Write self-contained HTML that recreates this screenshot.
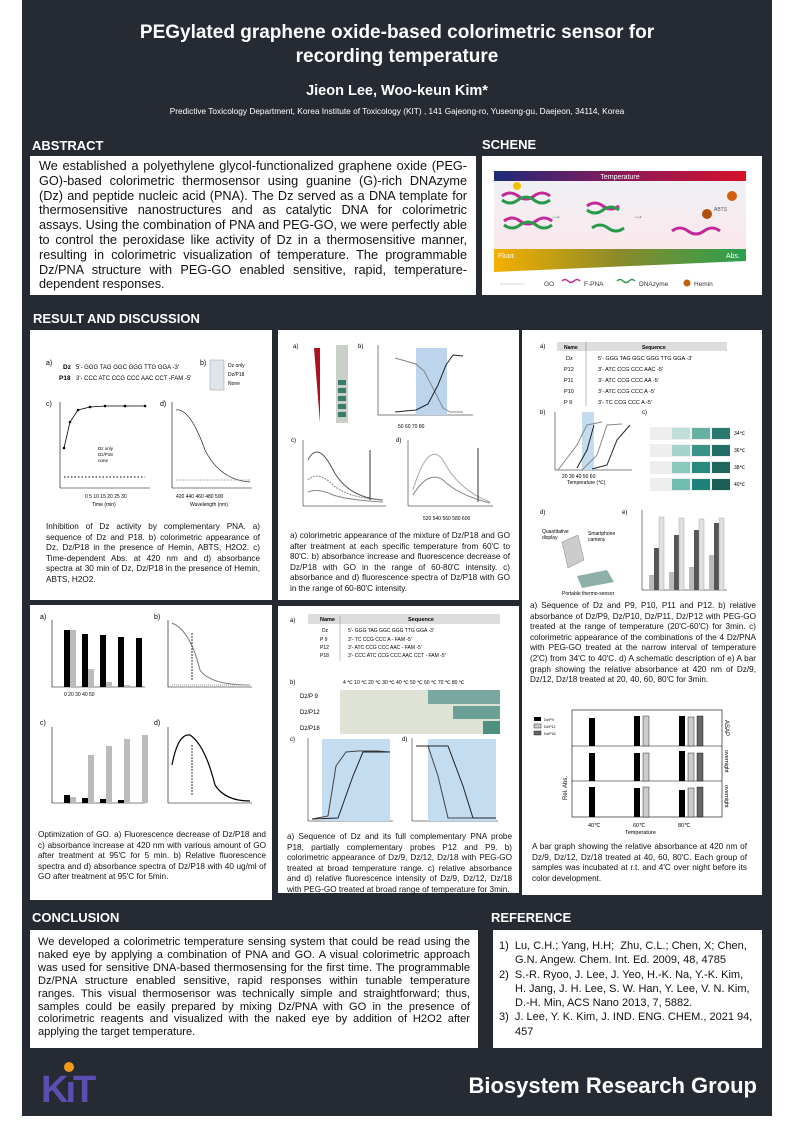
<!DOCTYPE html>
<html><head><meta charset="utf-8">
<style>
*{margin:0;padding:0;box-sizing:border-box}
body{width:793px;height:1122px;background:#fff;position:relative;font-family:"Liberation Sans",sans-serif;overflow:hidden}
#bg{position:absolute;left:22px;top:0;width:750px;height:1116px;background:#262b33}
.a{position:absolute}
.h{color:#fff;font-weight:bold;font-size:13px}
.box{position:absolute;background:#fff}
.j{text-align:justify;color:#111}
.cap{position:absolute;font-size:8.2px;line-height:10.6px;text-align:justify;color:#111}
svg text{font-family:"Liberation Sans",sans-serif}
</style></head><body>
<div id="bg"></div>
<div class="a" style="left:22px;width:750px;top:21px;text-align:center;color:#fff;font-weight:bold;font-size:19px;line-height:24px">PEGylated graphene oxide-based colorimetric sensor for<br>recording temperature</div>
<div class="a" style="left:22px;width:750px;top:83px;text-align:center;color:#fff;font-weight:bold;font-size:14.5px">Jieon Lee, Woo-keun Kim*</div>
<div class="a" style="left:22px;width:750px;top:106px;text-align:center;color:#fff;font-size:8.3px">Predictive Toxicology Department, Korea Institute of Toxicology (KIT) , 141 Gajeong-ro, Yuseong-gu, Daejeon, 34114, Korea</div>

<div class="a h" style="left:32px;top:138px">ABSTRACT</div>
<div class="a h" style="left:482px;top:137px">SCHENE</div>
<div class="box j" style="left:30px;top:156px;width:446px;height:139px;padding:3px 9px;font-size:12.7px;line-height:14.8px">We established a polyethylene glycol-functionalized graphene oxide (PEG-GO)-based colorimetric thermosensor using guanine (G)-rich DNAzyme (Dz) and peptide nucleic acid (PNA). The Dz served as a DNA template for thermosensitive nanostructures and as catalytic DNA for colorimetric assays. Using the combination of PNA and PEG-GO, we were perfectly able to control the peroxidase like activity of Dz in a thermosensitive manner, resulting in colorimetric visualization of temperature. The programmable Dz/PNA structure with PEG-GO enabled sensitive, rapid, temperature-dependent responses.</div>
<div class="box" style="left:482px;top:156px;width:280px;height:139px">
<svg width="280" height="139">
<defs><linearGradient id="tg"><stop offset="0" stop-color="#1d2a7a"/><stop offset=".5" stop-color="#8a1a5a"/><stop offset="1" stop-color="#d8102a"/></linearGradient>
<linearGradient id="fg"><stop offset="0" stop-color="#f5b000"/><stop offset=".5" stop-color="#8a8a2a"/><stop offset="1" stop-color="#2aa050"/></linearGradient>
<linearGradient id="pk" x1="0" y1="0" x2="0" y2="1"><stop offset="0" stop-color="#eef2f6"/><stop offset="1" stop-color="#fbe8ec"/></linearGradient></defs>
<rect x="12" y="15" width="252" height="80" fill="url(#pk)"/>
<rect x="12" y="15" width="252" height="10" fill="url(#tg)"/>
<text x="138" y="23" font-size="7" fill="#fff" text-anchor="middle">Temperature</text>
<g stroke-width="3" fill="none">
<path d="M20 40 q8 -6 16 0 t16 0 t16 0" stroke="#c02a9a"/><path d="M20 44 q8 6 16 0 t16 0 t16 0" stroke="#2a9a4a"/>
<path d="M22 65 q8 -6 16 0 t16 0 t16 0" stroke="#c02a9a"/><path d="M22 69 q8 6 16 0 t16 0 t16 0" stroke="#2a9a4a"/>
<path d="M105 50 q8 -6 16 0 t16 0" stroke="#c02a9a"/><path d="M105 54 q8 6 16 0 t16 0" stroke="#2a9a4a"/>
<path d="M110 72 q8 -6 16 0 t16 0" stroke="#2a9a4a"/>
<path d="M190 75 q8 -6 16 0 t16 0 t16 0" stroke="#c02a9a"/>
</g>
<circle cx="35" cy="30" r="4" fill="#f5c000"/><circle cx="250" cy="40" r="5" fill="#d06010"/><circle cx="225" cy="58" r="5" fill="#b05010"/>
<text x="68" y="63" font-size="12" fill="#888">→</text><text x="150" y="63" font-size="12" fill="#888">→</text>
<text x="232" y="55" font-size="5" fill="#555">ABTS</text>
<polygon points="12,93 264,93 264,105 12,116" fill="url(#fg)"/>
<text x="16" y="102" font-size="7" fill="#fff">Fluor.</text><text x="244" y="102" font-size="7" fill="#fff">Abs.</text>
<text x="62" y="130" font-size="6.5" fill="#333">GO</text>
<path d="M80 125 q3 -3 6 0 t6 0 t6 0" stroke="#c02a9a" stroke-width="1.5" fill="none"/><text x="102" y="130" font-size="6.5" fill="#333">F-PNA</text>
<path d="M135 125 q3 -3 6 0 t6 0 t6 0" stroke="#2a9a4a" stroke-width="1.5" fill="none"/><text x="157" y="130" font-size="6.5" fill="#333">DNAzyme</text>
<circle cx="205" cy="127" r="3.5" fill="#c06010"/><text x="212" y="130" font-size="6.5" fill="#333">Hemin</text>
<text x="18" y="130" font-size="6" fill="#aaa">~~~~~~~</text>
</svg></div>

<div class="a h" style="left:33px;top:311px">RESULT AND DISCUSSION</div>

<!-- left top -->
<div class="box" style="left:30px;top:330px;width:242px;height:270px">
<svg width="242" height="270" font-size="6">
<text x="16" y="35" font-size="7">a)</text>
<text x="33" y="39" font-size="6.5" font-weight="bold">Dz</text><text x="46" y="39" font-size="6" font-family="Liberation Mono">5'- GGG TAG GGC GGG TTG GGA -3'</text>
<text x="29" y="50" font-size="6.5" font-weight="bold">P18</text><text x="46" y="50" font-size="6" font-family="Liberation Mono">3'- CCC ATC CCG CCC AAC CCT -FAM -5'</text>
<text x="170" y="35" font-size="7">b)</text>
<rect x="180" y="30" width="14" height="30" fill="#dde4ea" stroke="#999" stroke-width=".5"/>
<text x="198" y="37" font-size="5">Dz only</text><text x="198" y="46" font-size="5">Dz/P18</text><text x="198" y="55" font-size="5">None</text>
<text x="16" y="76" font-size="7">c)</text><text x="130" y="76" font-size="7">d)</text>
<path d="M30 72 V158 H120" stroke="#000" fill="none" stroke-width=".6"/>
<path d="M34 118 L40 92 L48 80 L60 77 L75 76 L95 76 L115 76" stroke="#000" fill="none" stroke-width=".8"/>
<g fill="#000"><circle cx="34" cy="118" r="1.3"/><circle cx="40" cy="92" r="1.3"/><circle cx="48" cy="80" r="1.3"/><circle cx="60" cy="77" r="1.3"/><circle cx="75" cy="76" r="1.3"/><circle cx="95" cy="76" r="1.3"/><circle cx="115" cy="76" r="1.3"/></g>
<path d="M34 147 H115" stroke="#000" stroke-dasharray="1.5 2" stroke-width="1"/>
<text x="55" y="168" font-size="5">0 5 10 15 20 25 30</text><text x="62" y="176" font-size="5">Time (min)</text>
<text x="68" y="120" font-size="4.5">Dz only</text><text x="68" y="126" font-size="4.5">Dz/P18</text><text x="68" y="132" font-size="4.5">none</text>
<path d="M142 72 V158 H222" stroke="#000" fill="none" stroke-width=".6"/>
<path d="M146 80 Q160 78 175 120 Q190 150 220 152" stroke="#333" fill="none" stroke-width=".8"/>
<path d="M146 150 H220" stroke="#666" stroke-dasharray="2 1" stroke-width=".6"/>
<text x="146" y="168" font-size="5">420 440 460 480 500</text><text x="160" y="176" font-size="5">Wavelength (nm)</text>
</svg>
<div class="cap" style="left:16px;top:192px;width:214px">Inhibition of Dz activity by complementary PNA. a) sequence of Dz and P18. b) colorimetric appearance of Dz, Dz/P18 in the presence of Hemin, ABTS, H2O2. c) Time-dependent Abs. at 420 nm and d) absorbance spectra at 30 min of Dz, Dz/P18 in the presence of Hemin, ABTS, H2O2.</div>
</div>

<!-- left bottom -->
<div class="box" style="left:30px;top:605px;width:242px;height:295px">
<svg width="242" height="230" font-size="5">
<text x="10" y="14" font-size="7">a)</text><text x="124" y="14" font-size="7">b)</text>
<path d="M22 15 V82 H115" stroke="#000" fill="none" stroke-width=".6"/>
<g fill="#000"><rect x="34" y="25" width="6" height="57"/><rect x="52" y="29" width="6" height="53"/><rect x="70" y="30" width="6" height="52"/><rect x="88" y="32" width="6" height="50"/><rect x="106" y="33" width="6" height="49"/></g>
<g fill="#bbb"><rect x="40" y="25" width="6" height="57"/><rect x="58" y="64" width="6" height="18"/><rect x="76" y="77" width="6" height="5"/><rect x="94" y="80" width="6" height="2"/></g>
<text x="34" y="91">0 20 30 40 50</text>
<path d="M138 15 V82 H222" stroke="#000" fill="none" stroke-width=".6"/>
<path d="M142 18 Q160 25 170 65 Q180 80 220 80" stroke="#777" fill="none"/>
<path d="M142 80 H220" stroke="#999" stroke-dasharray="1 1"/>
<path d="M162 28 V75" stroke="#333" stroke-dasharray="2 1"/>
<text x="10" y="120" font-size="7">c)</text><text x="124" y="120" font-size="7">d)</text>
<path d="M22 122 V198 H115" stroke="#000" fill="none" stroke-width=".6"/>
<g fill="#000"><rect x="34" y="190" width="6" height="8"/><rect x="52" y="193" width="6" height="5"/><rect x="70" y="194" width="6" height="4"/><rect x="88" y="195" width="6" height="3"/></g>
<g fill="#bbb"><rect x="40" y="192" width="6" height="6"/><rect x="58" y="150" width="6" height="48"/><rect x="76" y="141" width="6" height="57"/><rect x="94" y="134" width="6" height="64"/><rect x="112" y="130" width="6" height="68"/></g>
<path d="M138 122 V198 H222" stroke="#000" fill="none" stroke-width=".6"/>
<path d="M142 160 Q148 128 160 130 Q175 140 185 180 Q195 196 220 196" stroke="#000" fill="none" stroke-width="1.2"/>
<path d="M162 190 V140" stroke="#333" stroke-dasharray="2 1"/>
</svg>
<div class="cap" style="left:8px;top:225px;width:228px">Optimization of GO. a) Fluorescence decrease of Dz/P18 and c) absorbance increase at 420 nm with various amount of GO after treatment at 95'C for 5 min. b) Relative fluorescence spectra and d) absorbance spectra of Dz/P18 with 40 ug/ml of GO after treatment at 95'C for 5min.</div>
</div>

<!-- middle top -->
<div class="box" style="left:278px;top:330px;width:241px;height:270px">
<svg width="241" height="200" font-size="5">
<text x="15" y="18" font-size="6">a)</text>
<polygon points="36,18 42,18 42,93" fill="#b01020"/>
<rect x="58" y="15" width="12" height="78" fill="#c8d0c8"/>
<g fill="#3a7a6a"><rect x="60" y="50" width="8" height="5"/><rect x="60" y="58" width="8" height="5"/><rect x="60" y="66" width="8" height="5"/><rect x="60" y="74" width="8" height="5"/><rect x="60" y="82" width="8" height="5"/></g>
<text x="80" y="18" font-size="6">b)</text>
<path d="M100 15 V85 H195" stroke="#000" fill="none" stroke-width=".5"/>
<rect x="138" y="18" width="31" height="67" fill="#bcd4ec"/>
<path d="M117 28 L138 34 L146 41 L156 60 L165 78 L172 82 L185 82" stroke="#888" fill="none"/>
<path d="M117 82 L138 80 L150 74 L160 55 L168 35 L175 25 L185 26" stroke="#222" fill="none"/>
<text x="120" y="98">50 60 70 80</text>
<text x="13" y="112" font-size="6">c)</text><text x="118" y="112" font-size="6">d)</text>
<path d="M25 110 V176 H108" stroke="#000" fill="none" stroke-width=".5"/>
<path d="M30 130 Q40 110 55 140 Q70 168 105 170" stroke="#555" fill="none"/>
<path d="M30 150 Q40 140 55 155 Q70 168 105 170" stroke="#888" fill="none" stroke-dasharray="2 1"/>
<path d="M30 162 Q40 158 55 165 Q70 170 105 172" stroke="#888" fill="none"/>
<path d="M92 170 V120" stroke="#333"/>
<path d="M130 110 V176 H215" stroke="#000" fill="none" stroke-width=".5"/>
<path d="M135 160 Q150 110 165 130 Q180 160 212 172" stroke="#aaa" fill="none"/>
<path d="M135 165 Q150 140 165 150 Q180 165 212 173" stroke="#888" fill="none"/>
<path d="M200 118 V172" stroke="#333"/>
<text x="145" y="190">520 540 560 580 600</text>
</svg>
<div class="cap" style="left:12px;top:201px;width:220px">a) colorimetric appearance of the mixture of Dz/P18 and GO after treatment at each specific temperature from 60'C to 80'C. b) absorbance increase and fluorescence decrease of Dz/P18 with GO in the range of 60-80'C intensity. c) absorbance and d) fluorescence spectra of Dz/P18 with GO in the range of 60-80'C intensity.</div>
</div>

<!-- middle bottom -->
<div class="box" style="left:278px;top:606px;width:241px;height:287px">
<svg width="241" height="225" font-size="5.5">
<text x="12" y="16" font-size="6">a)</text>
<rect x="30" y="8" width="192" height="10" fill="#ddd"/>
<text x="42" y="15" font-weight="bold">Name</text><text x="130" y="15" font-weight="bold">Sequence</text>
<g font-family="Liberation Mono" font-size="5"><text x="44" y="26">Dz</text><text x="70" y="26">5'- GGG TAG GGC GGG TTG GGA      -3'</text>
<text x="42" y="35">P 9</text><text x="70" y="35">3'-       TC CCG CCC A      - FAM -5'</text>
<text x="42" y="43">P12</text><text x="70" y="43">3'-      ATC CCG CCC AAC    - FAM -5'</text>
<text x="42" y="51">P18</text><text x="70" y="51">3'- CCC ATC CCG CCC AAC CCT - FAM -5'</text></g>
<path d="M62 10 V55" stroke="#888" stroke-width=".5"/>
<text x="12" y="78" font-size="6">b)</text>
<text x="65" y="78" font-size="5">4 ℃  10 ℃  20 ℃  30 ℃  40 ℃  50 ℃  60 ℃  70 ℃  80 ℃</text>
<text x="22" y="92" font-size="6">Dz/P 9</text><text x="22" y="108" font-size="6">Dz/P12</text><text x="22" y="124" font-size="6">Dz/P18</text>
<rect x="62" y="84" width="160" height="44" fill="#dfe3d6"/>
<rect x="150" y="84" width="72" height="14" fill="#7aa8a0"/><rect x="175" y="100" width="47" height="13" fill="#6aa095"/><rect x="205" y="115" width="17" height="13" fill="#4d9080"/>
<text x="12" y="135" font-size="6">c)</text><text x="124" y="135" font-size="6">d)</text>
<path d="M30 132 V215 H115" stroke="#000" fill="none" stroke-width=".5"/>
<rect x="44" y="133" width="68" height="82" fill="#c4dcf0"/>
<path d="M34 213 L50 210 L58 160 L68 146 L80 145 L100 145 L112 146" stroke="#444" fill="none"/>
<path d="M34 213 L60 212 L75 170 L85 146 L112 146" stroke="#222" fill="none"/>
<path d="M134 132 V215 H220" stroke="#000" fill="none" stroke-width=".5"/>
<rect x="150" y="133" width="68" height="82" fill="#c4dcf0"/>
<path d="M138 140 L150 140 L160 170 L170 212 L218 212" stroke="#444" fill="none"/>
<path d="M138 140 L170 140 L185 180 L195 212 L218 212" stroke="#222" fill="none"/>
</svg>
<div class="cap" style="left:9px;top:226px;width:225px">a) Sequence of Dz and its full complementary PNA probe P18, partially complementary probes P12 and P9. b) colorimetric appearance of Dz/9, Dz/12, Dz/18 with PEG-GO treated at broad temperature range. c) relative absorbance and d) relative fluorescence intensity of Dz/9, Dz/12, Dz/18 with PEG-GO treated at broad range of temperature for 3min.</div>
</div>

<!-- right -->
<div class="box" style="left:522px;top:330px;width:240px;height:565px">
<svg width="240" height="560" font-size="5">
<text x="18" y="18" font-size="6">a)</text>
<rect x="35" y="12" width="170" height="9" fill="#ddd"/>
<text x="42" y="19" font-weight="bold">Name</text><text x="120" y="19" font-weight="bold">Sequence</text>
<g font-family="Liberation Serif" font-size="5.5"><text x="44" y="30">Dz</text><text x="76" y="30">5'- GGG TAG GGC GGG TTG GGA -3'</text>
<text x="42" y="41">P12</text><text x="76" y="41">3'-     ATC CCG CCC AAC      -5'</text>
<text x="42" y="52">P11</text><text x="76" y="52">3'-     ATC CCG CCC AA       -5'</text>
<text x="42" y="63">P10</text><text x="76" y="63">3'-     ATC CCG CCC A        -5'</text>
<text x="42" y="74">P 9</text><text x="76" y="74">3'-      TC CCG CCC A        -5'</text></g>
<path d="M64 12 V76" stroke="#777" stroke-width=".5"/>
<text x="18" y="84" font-size="6">b)</text>
<path d="M33 82 V140 H110" stroke="#000" fill="none" stroke-width=".5"/>
<rect x="60" y="82" width="12" height="58" fill="#c4dcf0"/>
<path d="M36 140 L55 115 L65 95 L80 92" stroke="#888" fill="none"/>
<path d="M55 138 L65 120 L72 95" stroke="#222" fill="none"/>
<path d="M60 140 L75 125 L85 95 L100 94" stroke="#888" fill="none"/>
<path d="M70 139 L85 135 L95 110 L108 95" stroke="#222" fill="none"/>
<text x="40" y="148">20 30 40 50 60</text><text x="45" y="154">Temperature (℃)</text>
<text x="120" y="84" font-size="6">c)</text>
<g><rect x="128" y="97" width="80" height="13" fill="#eee"/><rect x="128" y="114" width="80" height="13" fill="#eee"/><rect x="128" y="131" width="80" height="13" fill="#eee"/><rect x="128" y="148" width="80" height="13" fill="#eee"/>
<rect x="150" y="98" width="18" height="11" fill="#bfe0d8"/><rect x="170" y="98" width="18" height="11" fill="#69b0a4"/><rect x="190" y="98" width="18" height="11" fill="#2a7a70"/>
<rect x="150" y="115" width="18" height="11" fill="#a5d4ca"/><rect x="170" y="115" width="18" height="11" fill="#3a9488"/><rect x="190" y="115" width="18" height="11" fill="#236e64"/>
<rect x="150" y="132" width="18" height="11" fill="#8ac8bc"/><rect x="170" y="132" width="18" height="11" fill="#2a8a7e"/><rect x="190" y="132" width="18" height="11" fill="#1f665c"/>
<rect x="150" y="149" width="18" height="11" fill="#70bcae"/><rect x="170" y="149" width="18" height="11" fill="#1f827a"/><rect x="190" y="149" width="18" height="11" fill="#1a5e56"/></g>
<text x="212" y="105">34℃</text><text x="212" y="122">36℃</text><text x="212" y="139">38℃</text><text x="212" y="156">40℃</text>
<text x="18" y="184" font-size="6">d)</text><text x="100" y="184" font-size="6">e)</text>
<text x="20" y="203">Quantitative</text><text x="20" y="209">display</text><text x="66" y="205">Smartphone</text><text x="66" y="211">camera</text>
<polygon points="40,212 56,205 62,230 46,238" fill="#ccc" stroke="#888" stroke-width=".5"/>
<polygon points="55,246 85,240 92,252 60,258" fill="#8fb0a8"/>
<text x="40" y="265">Portable thermo-sensor</text>
<path d="M120 180 V260 H205" stroke="#000" fill="none" stroke-width=".5"/>
<g fill="#bbb"><rect x="127" y="245" width="5" height="15"/><rect x="147" y="242" width="5" height="18"/><rect x="167" y="237" width="5" height="23"/><rect x="187" y="225" width="5" height="35"/></g>
<g fill="#555"><rect x="132" y="218" width="5" height="42"/><rect x="152" y="205" width="5" height="55"/><rect x="172" y="200" width="5" height="60"/><rect x="192" y="193" width="5" height="67"/></g>
<g fill="#e0e0e0" stroke="#999" stroke-width=".4"><rect x="137" y="187" width="5" height="73"/><rect x="157" y="188" width="5" height="72"/><rect x="177" y="189" width="5" height="71"/><rect x="197" y="188" width="5" height="72"/></g>
<rect x="12" y="387" width="7" height="4" fill="#000"/><text x="22" y="391" font-size="3.5">Dz/P9</text>
<rect x="12" y="394" width="7" height="4" fill="#ccc" stroke="#000" stroke-width=".4"/><text x="22" y="398" font-size="3.5">Dz/P12</text>
<rect x="12" y="401" width="7" height="4" fill="#666" stroke="#000" stroke-width=".4"/><text x="22" y="405" font-size="3.5">Dz/P18</text>
<rect x="50" y="380" width="150" height="107" fill="none" stroke="#000" stroke-width=".6"/>
<path d="M50 416 H200 M50 451 H200" stroke="#000" stroke-width=".6"/>
<g fill="#000"><rect x="67" y="388" width="6" height="28"/><rect x="112" y="386" width="6" height="30"/><rect x="157" y="386" width="6" height="30"/>
<rect x="67" y="423" width="6" height="28"/><rect x="112" y="423" width="6" height="28"/><rect x="157" y="421" width="6" height="30"/>
<rect x="67" y="457" width="6" height="30"/><rect x="112" y="458" width="6" height="29"/><rect x="157" y="460" width="6" height="27"/></g>
<g fill="#ccc" stroke="#000" stroke-width=".4"><rect x="121" y="386" width="6" height="30"/><rect x="166" y="387" width="6" height="29"/><rect x="121" y="423" width="6" height="28"/><rect x="166" y="423" width="6" height="28"/><rect x="121" y="457" width="6" height="30"/><rect x="166" y="458" width="6" height="29"/></g>
<g fill="#666" stroke="#000" stroke-width=".4"><rect x="175" y="386" width="6" height="30"/><rect x="175" y="423" width="6" height="28"/><rect x="175" y="457" width="6" height="30"/></g>
<text x="66" y="497" font-size="5.5" font-family="Liberation Serif">40℃</text><text x="111" y="497" font-size="5.5" font-family="Liberation Serif">60℃</text><text x="156" y="497" font-size="5.5" font-family="Liberation Serif">80℃</text>
<text x="103" y="504" font-size="5.5">Temperature</text>
<text x="45" y="470" font-size="6" transform="rotate(-90 45 470)">Rel. Abs.</text>
<text x="203" y="390" font-size="6" transform="rotate(90 203 390)">ASAP</text>
<text x="203" y="420" font-size="5.5" transform="rotate(90 203 420)">overnight</text>
<text x="203" y="455" font-size="5.5" transform="rotate(90 203 455)">overnight</text>
</svg>
<div class="cap" style="left:8px;top:271px;width:226px">a) Sequence of Dz and P9, P10, P11 and P12. b) relative absorbance of Dz/P9, Dz/P10, Dz/P11, Dz/P12 with PEG-GO treated at the range of temperature (20'C-60'C) for 3min. c) colorimetric appearance of the combinations of the 4 Dz/PNA with PEG-GO treated at the narrow interval of temperature (2'C) from 34'C to 40'C. d) A schematic description of e) A bar graph showing the relative absorbance at 420 nm of Dz/9, Dz/12, Dz/18 treated at 20, 40, 60, 80'C for 3min.</div>
<div class="cap" style="left:10px;top:512px;width:215px">A bar graph showing the relative absorbance at 420 nm of Dz/9, Dz/12, Dz/18 treated at 40, 60, 80'C. Each group of samples was incubated at r.t. and 4'C over night before its color development.</div>
</div>

<div class="a h" style="left:32px;top:910px">CONCLUSION</div>
<div class="a h" style="left:491px;top:910px">REFERENCE</div>
<div class="box j" style="left:30px;top:930px;width:448px;height:118px;padding:6px 8px;font-size:11.1px;line-height:12.9px">We developed a colorimetric temperature sensing system that could be read using the naked eye by applying a combination of PNA and GO. A visual colorimetric approach was used for sensitive DNA-based thermosensing for the first time. The programmable Dz/PNA structure enabled sensitive, rapid responses within tunable temperature ranges. This visual thermosensor was technically simple and straightforward; thus, samples could be easily prepared by mixing Dz/PNA with GO in the presence of colorimetric reagents and visualized with the naked eye by addition of H2O2 after applying the target temperature.</div>
<div class="box" style="left:493px;top:930px;width:269px;height:118px;padding:9px 5px 0 6px;font-size:11px;line-height:14.3px;color:#111">
<div style="padding-left:16px;text-indent:-16px">1)&nbsp; Lu, C.H.; Yang, H.H;&nbsp; Zhu, C.L.; Chen, X; Chen, G.N. Angew. Chem. Int. Ed. 2009, 48, 4785</div>
<div style="padding-left:16px;text-indent:-16px">2)&nbsp; S.-R. Ryoo, J. Lee, J. Yeo, H.-K. Na, Y.-K. Kim, H. Jang, J. H. Lee, S. W. Han, Y. Lee, V. N. Kim, D.-H. Min, ACS Nano 2013, 7, 5882.</div>
<div style="padding-left:16px;text-indent:-16px">3)&nbsp; J. Lee, Y. K. Kim, J. IND. ENG. CHEM., 2021 94, 457</div>
</div>

<div class="a" style="left:41px;top:1072px;font-size:38px;font-weight:bold;color:#5a4fb0;letter-spacing:-3px;line-height:36px">K<span style="color:#5a4fb0">ı</span>T</div>
<div class="a" style="left:64px;top:1062px;width:10px;height:10px;border-radius:50%;background:#f39a1a"></div>
<div class="a" style="left:400px;width:357px;top:1073px;text-align:right;color:#fff;font-weight:bold;font-size:22px">Biosystem Research Group</div>
</body></html>
